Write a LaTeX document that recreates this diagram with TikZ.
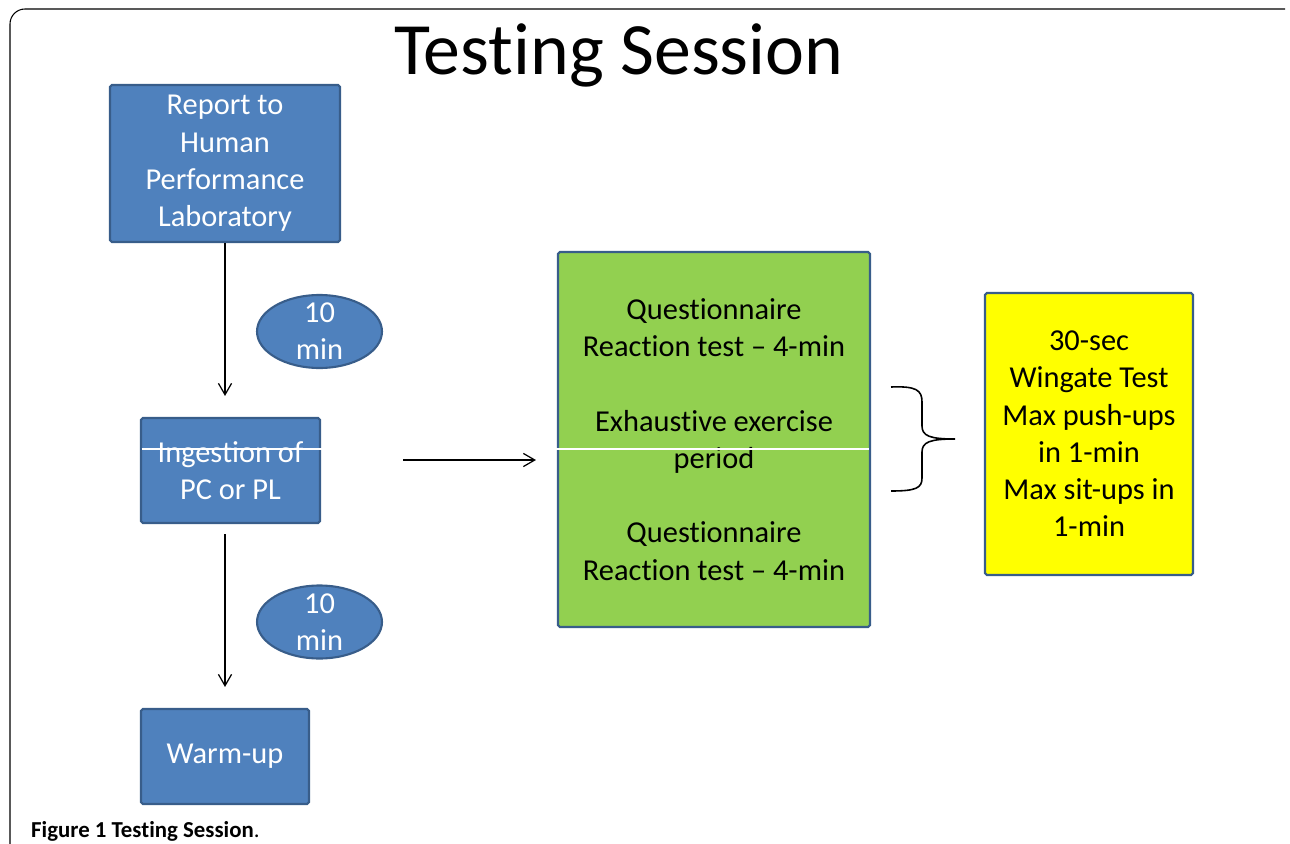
\documentclass[tikz,border=0pt]{standalone}
\usepackage{fontspec}
\setmainfont{Carlito}[Ligatures={TeX,NoCommon}]
\usepackage{xcolor}
\usepackage{tikz}
\usetikzlibrary{arrows.meta}
\usetikzlibrary{shapes,positioning}
\definecolor{officeBlue}{HTML}{4F81BD}
\definecolor{officeBorder}{HTML}{385D8A}
\definecolor{limeGreen}{HTML}{92D050}
\definecolor{brightYellow}{HTML}{FFFF00}
\tikzset{>={Straight Barb[length=6.5pt,width=7.5pt]}}
\tikzset{flow-line/.style={line width=0.7pt}}
\tikzset{brace-line/.style={line width=0.9pt}}
\tikzset{box-text/.style={align=center, font=\fontsize{17.3}{21.2}\selectfont}}
\tikzset{box-node/.style={box-text, draw=officeBorder, line width=1.2pt, rounded corners=1pt, inner sep=0}}
\tikzset{blue-box/.style={box-node, fill=officeBlue, text=white}}
\tikzset{green-box/.style={box-node, fill=limeGreen}}
\tikzset{yellow-box/.style={box-node, fill=brightYellow}}
\tikzset{wait-ellipse/.style={
    ellipse,
    draw=officeBorder,
    line width=1.2pt,
    fill=officeBlue,
    inner sep=0,
    minimum width=2.5cm,
    minimum height=1.46cm
}}

\begin{document}
\begin{tikzpicture}[x=0.02cm, y=-0.02cm]
    \useasboundingbox (0,0) rectangle (1290,844);
    \draw[line width=0.6pt, rounded corners=0.3cm] (10,844) -- (10,9) -- (1285,9);

    \node[anchor=base, font=\fontsize{42}{50}\selectfont] (title) at (619,75) {Testing Session};

    \node[blue-box, minimum width=4.6cm, minimum height=3.14cm] (report) at (225,163.5)
        {Report to\\Human\\Performance\\Laboratory};
    \node[wait-ellipse, label={[box-text, text=white]center:10\\min}] (wait1) at (319.5,331.5) {};
    \node[blue-box, minimum width=3.58cm, minimum height=2.1cm] (ingest) at (230.5,470.5)
        {Ingestion of\\PC or PL};
    \node[wait-ellipse, label={[box-text, text=white]center:10\\min}] (wait2) at (319.5,622) {};
    \node[blue-box, minimum width=3.36cm, minimum height=1.9cm] (warmup) at (225,756.5) {Warm-up};

    \node[green-box, minimum width=6.24cm, minimum height=7.5cm] (tests) at (714,439.5)
        {Questionnaire\\Reaction test – 4-min\\[21.2pt]Exhaustive exercise\\period\\[21.2pt]Questionnaire\\Reaction test – 4-min};
    \node[yellow-box, minimum width=4.16cm, minimum height=5.64cm] (perf) at (1089,434)
        {30-sec\\Wingate Test\\Max push-ups\\in 1-min\\Max sit-ups in\\1-min};

    % white rule across the boxes
    \draw[white, line width=0.6pt] ([xshift=1pt]ingest.west |- 0,449) -- ([xshift=-1pt]tests.east |- 0,449);

    \draw[->, flow-line, shorten >=0.42cm] (report) -- (report |- ingest.north);
    \draw[->, flow-line, shorten <=0.2cm, shorten >=0.42cm] (warmup |- ingest.south) -- (warmup.north);
    \draw[->, flow-line, shorten <=1.64cm, shorten >=0.42cm] ([yshift=0.21cm]ingest.east) -- ([yshift=0.21cm]ingest.east -| tests.west);

    \draw[brace-line] (891,387) .. controls (916,386) and (922,390) .. (922,402) -- (922,426)
        .. controls (922,436) and (930,439) .. (955,439)
        .. controls (930,439) and (922,442) .. (922,452) -- (922,478)
        .. controls (922,488) and (916,491) .. (891,491);

    \node[anchor=base west, font=\fontsize{13}{15}\selectfont] (caption) at (25,837) {\textbf{Figure 1 Testing Session}.};
\end{tikzpicture}
\end{document}
